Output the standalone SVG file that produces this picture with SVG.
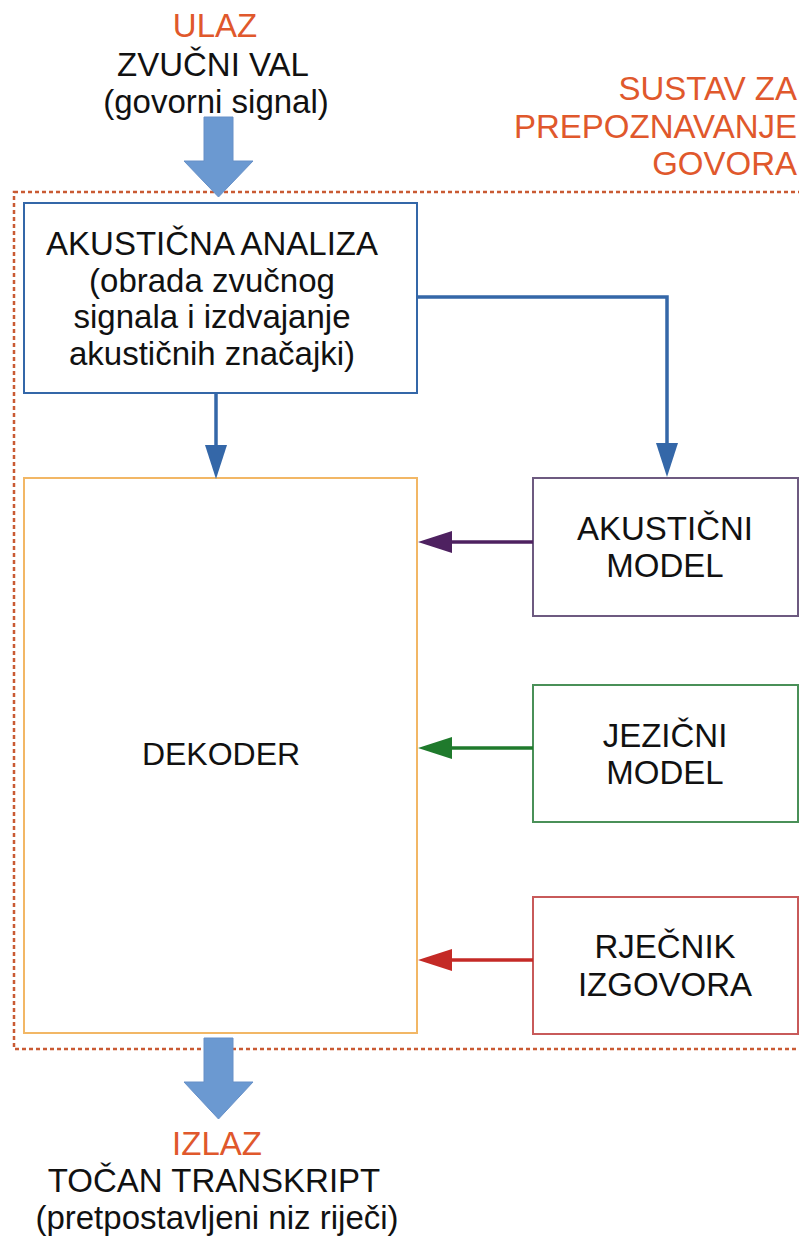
<svg xmlns="http://www.w3.org/2000/svg" width="799" height="1241" viewBox="0 0 799 1241">
<style>
  text { font-family: "Liberation Sans", Arial, sans-serif; font-size: 33px; fill: #111; }
  .orange { fill: #e0582c; }
  .c { text-anchor: middle; }
  .r { text-anchor: end; }
  .box { fill: #fff; stroke-width: 2; }
  .conn { fill: none; stroke-width: 3.5; }
  .big { fill: #6b99d1; stroke: #6690c8; stroke-width: 1; }
</style>
<defs>
  <marker id="hBlue" viewBox="0 0 34 22" refX="0" refY="11" markerWidth="34" markerHeight="22" markerUnits="userSpaceOnUse" orient="auto"><path d="M0,0 L34,11 L0,22 z" fill="#3467a8"/></marker>
  <marker id="hPurple" viewBox="0 0 34 22" refX="0" refY="11" markerWidth="34" markerHeight="22" markerUnits="userSpaceOnUse" orient="auto"><path d="M0,0 L34,11 L0,22 z" fill="#4e2160"/></marker>
  <marker id="hGreen" viewBox="0 0 34 22" refX="0" refY="11" markerWidth="34" markerHeight="22" markerUnits="userSpaceOnUse" orient="auto"><path d="M0,0 L34,11 L0,22 z" fill="#1f7a2c"/></marker>
  <marker id="hRed" viewBox="0 0 34 22" refX="0" refY="11" markerWidth="34" markerHeight="22" markerUnits="userSpaceOnUse" orient="auto"><path d="M0,0 L34,11 L0,22 z" fill="#c42a26"/></marker>
</defs>
<rect width="799" height="1241" fill="#fff"/>

<g id="system-boundary">
  <rect x="14" y="192" width="820" height="857" fill="none" stroke="#c95a33" stroke-width="2.5" stroke-dasharray="4 3"/>
  <text class="orange r" x="797" y="100">SUSTAV ZA</text>
  <text class="orange r" x="797" y="138">PREPOZNAVANJE</text>
  <text class="orange r" x="797" y="175">GOVORA</text>
</g>

<g id="input">
  <text class="orange c" x="215" y="37">ULAZ</text>
  <text class="c" x="213" y="76">ZVUČNI VAL</text>
  <text class="c" x="216" y="113">(govorni signal)</text>
  <polygon class="big" points="204,117 233,117 233,161 253,161 218.5,197 184,161 204,161"/>
</g>

<g id="akusticna-analiza">
  <rect class="box" x="24" y="203" width="393" height="190" stroke="#3467a8"/>
  <text class="c" x="212" y="255">AKUSTIČNA ANALIZA</text>
  <text class="c" x="212" y="292">(obrada zvučnog</text>
  <text class="c" x="212" y="328">signala i izdvajanje</text>
  <text class="c" x="212" y="365">akustičnih značajki)</text>
</g>

<g id="dekoder">
  <rect class="box" x="24" y="478" width="393" height="555" stroke="#f2b765"/>
  <text class="c" x="221" y="765" style="font-size:32px">DEKODER</text>
</g>

<g id="akusticni-model">
  <rect class="box" x="533" y="478" width="265" height="138" stroke="#6d5a80"/>
  <text class="c" x="665" y="540">AKUSTIČNI</text>
  <text class="c" x="665" y="577">MODEL</text>
</g>

<g id="jezicni-model">
  <rect class="box" x="533" y="685" width="265" height="137" stroke="#4a9058"/>
  <text class="c" x="665" y="747">JEZIČNI</text>
  <text class="c" x="665" y="784">MODEL</text>
</g>

<g id="rjecnik-izgovora">
  <rect class="box" x="533" y="897" width="265" height="137" stroke="#c85a5a"/>
  <text class="c" x="665" y="958">RJEČNIK</text>
  <text class="c" x="665" y="996">IZGOVORA</text>
</g>

<g id="output">
  <polygon class="big" points="204,1038 233,1038 233,1082 253,1082 218.5,1119 184,1082 204,1082"/>
  <text class="orange c" x="217" y="1155">IZLAZ</text>
  <text class="c" x="214" y="1192">TOČAN TRANSKRIPT</text>
  <text class="c" x="217" y="1229">(pretpostavljeni niz riječi)</text>
</g>

<g id="connectors">
  <path class="conn" d="M216,393 V445" stroke="#3467a8" marker-end="url(#hBlue)"/>
  <path class="conn" d="M417,297 H667 V443" stroke="#3467a8" marker-end="url(#hBlue)"/>
  <path class="conn" d="M533,542 H452" stroke="#4e2160" marker-end="url(#hPurple)"/>
  <path class="conn" d="M533,748 H452" stroke="#1f7a2c" marker-end="url(#hGreen)"/>
  <path class="conn" d="M533,960 H452" stroke="#c42a26" marker-end="url(#hRed)"/>
</g>
</svg>
